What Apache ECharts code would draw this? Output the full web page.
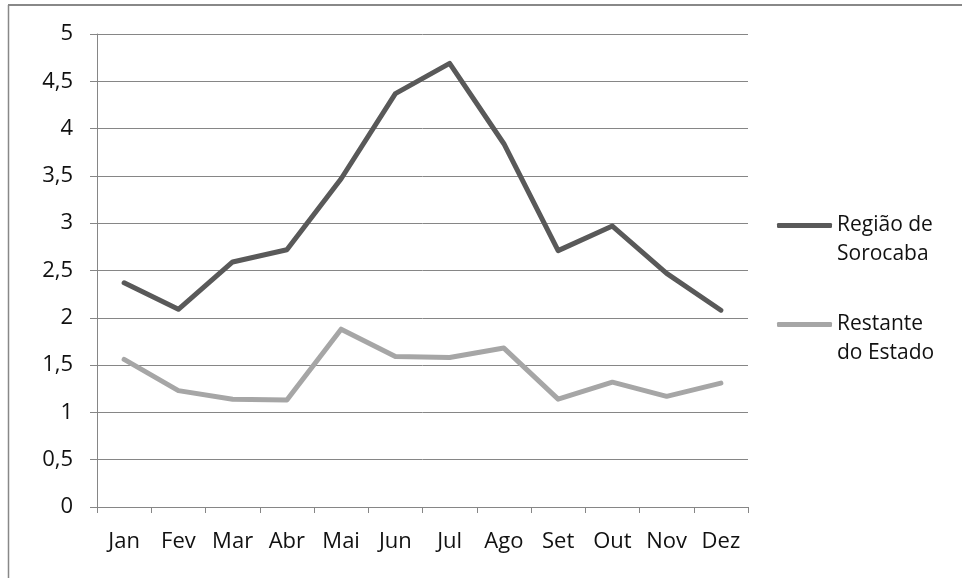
<!DOCTYPE html>
<html>
<head>
<meta charset="utf-8">
<title>Região de Sorocaba x Restante do Estado</title>
<script src="https://cdn.jsdelivr.net/npm/echarts@6/dist/echarts.min.js"></script>
<style>
  html, body { margin: 0; padding: 0; background: #fff; }
  #chart { width: 962px; height: 578px; }
</style>
</head>
<body>
<div id="chart"></div>
<script>
// 月份（x轴）
var months = ['Jan', 'Fev', 'Mar', 'Abr', 'Mai', 'Jun', 'Jul', 'Ago', 'Set', 'Out', 'Nov', 'Dez']
// 系列数据
var sorocaba = [2.37, 2.09, 2.59, 2.72, 3.47, 4.37, 4.69, 3.84, 2.71, 2.97, 2.47, 2.08]
var restante = [1.56, 1.23, 1.14, 1.13, 1.88, 1.59, 1.58, 1.68, 1.14, 1.32, 1.17, 1.31]
// 系列名称
var names = ['Região de\nSorocaba', 'Restante\ndo Estado']

var FONT = '"Open Sans", "Noto Sans", sans-serif'
var GRID_COLOR = '#868686'
var DARK = '#595959'
var LIGHT = '#a6a6a6'

var chart = echarts.init(document.getElementById('chart'))

// 图例：每项单独一个；前面加一个空行，让线和第一行文字对齐
function legendAt(name, top) {
  return {
    data: [name],
    left: 772,
    top: top,
    icon: 'roundRect',
    itemWidth: 55,
    itemHeight: 5,
    selectedMode: false,
    formatter: function (n) { return '\n' + n },
    textStyle: {
      fontFamily: FONT,
      fontSize: 21,
      color: '#111',
      lineHeight: 29
    }
  }
}

chart.setOption({
  animation: false,
  // 外框（只有上边和左边在画面里）
  graphic: [
    {
      type: 'line',
      shape: { x1: 8, y1: 5, x2: 962, y2: 5 },
      style: { stroke: '#888', lineWidth: 2 },
      silent: true
    },
    {
      type: 'line',
      shape: { x1: 8.5, y1: 5, x2: 8.5, y2: 578 },
      style: { stroke: '#888', lineWidth: 1.5 },
      silent: true
    }
  ],
  legend: [legendAt(names[0], 177), legendAt(names[1], 276)],
  grid: {
    left: 97,
    right: 214,
    top: 34,
    bottom: 71,
    containLabel: false
  },
  xAxis: {
    type: 'category',
    data: months,
    boundaryGap: true,
    axisLine: { lineStyle: { color: GRID_COLOR, width: 1 } },
    axisTick: { show: true, length: 6, lineStyle: { color: GRID_COLOR } },
    axisLabel: { fontFamily: FONT, fontSize: 22, color: '#111', margin: 24 },
    splitLine: { show: false }
  },
  yAxis: {
    type: 'value',
    min: 0,
    max: 5,
    interval: 0.5,
    axisLine: { show: true, lineStyle: { color: GRID_COLOR, width: 1 } },
    axisTick: { show: true, length: 7, lineStyle: { color: GRID_COLOR } },
    axisLabel: {
      fontFamily: FONT,
      fontSize: 22,
      color: '#111',
      margin: 24,
      formatter: function (v) { return String(v).replace('.', ',') }
    },
    splitLine: { lineStyle: { color: GRID_COLOR, width: 1 } }
  },
  series: [
    {
      name: names[0],
      type: 'line',
      data: sorocaba,
      symbol: 'none',
      itemStyle: { color: DARK },
      lineStyle: { color: DARK, width: 5, cap: 'round', join: 'round' }
    },
    {
      name: names[1],
      type: 'line',
      data: restante,
      symbol: 'none',
      itemStyle: { color: LIGHT },
      lineStyle: { color: LIGHT, width: 5, cap: 'round', join: 'round' }
    }
  ]
})
</script>
</body>
</html>
